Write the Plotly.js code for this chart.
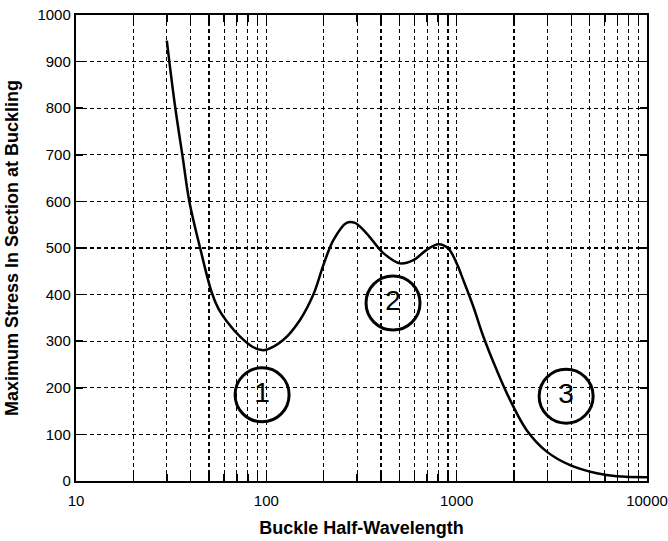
<!DOCTYPE html>
<html>
<head>
<meta charset="utf-8">
<script src="https://cdn.plot.ly/plotly-3.0.1.min.js"></script>
<style>html,body{margin:0;padding:0;background:#fff;}#chart{width:668px;height:541px;}</style>
</head>
<body>
<div id="chart"></div>
<script>
var halfWavelength = [30, 33, 36.5, 39.4, 44.9, 51.6, 56, 61.9, 72.8, 85.5, 94.6, 100.5, 123, 150, 176.6, 200, 225, 264, 292, 337, 412, 504, 592, 696, 802, 904, 1000, 1084, 1224, 1381, 1623, 1907, 2333, 2973, 3943, 5448, 6925, 10000];
var maxStress = [945, 810, 690, 600, 500, 405, 370, 343, 310, 287, 281, 282, 303, 345, 400, 465, 517, 554, 554, 531, 489, 467, 474, 496, 508, 499, 467, 431, 374, 310, 238, 174, 109, 63, 34, 16.5, 10, 8];

var regionLabels = ["1", "2", "3"];
var regionX = [95, 463, 3760];
var regionY = [185, 382, 182];

var xTickVals = [10,20,30,40,50,60,70,80,90,100,200,300,400,500,600,700,800,900,1000,2000,3000,4000,5000,6000,7000,8000,9000,10000];
var xTickText = ["10","","","","","","","","","100","","","","","","","","","1000","","","","","","","","","10000"];
var yTickVals = [0,100,200,300,400,500,600,700,800,900,1000];

var font = "Liberation Sans, Arial, sans-serif";

var traces = [
  {
    x: halfWavelength, y: maxStress, type: "scatter", mode: "lines",
    line: {color: "#000", width: 2.5, shape: "spline", smoothing: 1},
    hoverinfo: "skip", showlegend: false
  },
  {
    x: regionX, y: regionY, type: "scatter", mode: "markers+text",
    text: regionLabels, textposition: "middle center",
    textfont: {family: font, size: 28, color: "#000"},
    marker: {symbol: "circle-open", size: 54, color: "#000", line: {color: "#000", width: 3}},
    hoverinfo: "skip", showlegend: false
  }
];

var layout = {
  width: 668, height: 541,
  margin: {l: 76, r: 21, t: 15, b: 60},
  paper_bgcolor: "#fff", plot_bgcolor: "#fff",
  font: {family: font, color: "#000"},
  xaxis: {
    type: "log", range: [1, 4],
    tickmode: "array", tickvals: xTickVals, ticktext: xTickText,
    ticks: "inside", ticklen: 7, tickcolor: "#000", tickwidth: 1.5,
    showline: true, linecolor: "#000", linewidth: 2.2, mirror: "ticks",
    showgrid: true, gridcolor: "#000", gridwidth: 1.2, griddash: "4px,3px",
    tickfont: {family: font, size: 15, color: "#000"},
    ticklabelstandoff: 5,
    title: {text: "Buckle Half-Wavelength", font: {family: font, size: 18, color: "#000", weight: "bold"}, standoff: 13},
    zeroline: false, fixedrange: true
  },
  yaxis: {
    range: [0, 1000],
    tickmode: "array", tickvals: yTickVals,
    ticks: "inside", ticklen: 7, tickcolor: "#000", tickwidth: 1.5,
    showline: true, linecolor: "#000", linewidth: 2.2, mirror: "ticks",
    showgrid: true, gridcolor: "#000", gridwidth: 1.2, griddash: "4px,3px",
    tickfont: {family: font, size: 15, color: "#000"},
    title: {text: "Maximum Stress In Section at Buckling", font: {family: font, size: 18, color: "#000", weight: "bold"}, standoff: 14},
    zeroline: false, fixedrange: true
  }
};

Plotly.newPlot("chart", traces, layout, {displayModeBar: false, staticPlot: true});
</script>
</body>
</html>
